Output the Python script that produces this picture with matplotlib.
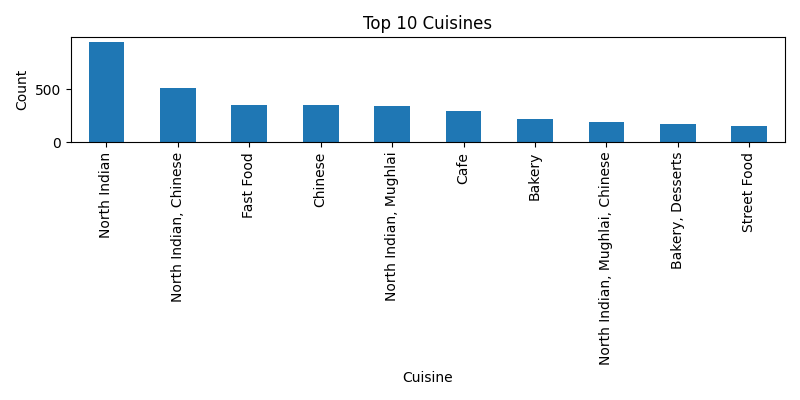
import pandas as pd
import matplotlib.pyplot as plt

# Top 10 kuchyní a jejich počty
cuisines = ['North Indian', 'North Indian, Chinese', 'Fast Food', 'Chinese',
            'North Indian, Mughlai', 'Cafe', 'Bakery',
            'North Indian, Mughlai, Chinese', 'Bakery, Desserts', 'Street Food']
counts = [946, 512, 354, 351, 338, 298, 223, 195, 168, 149]

top_cuisines = pd.Series(counts, index=cuisines)

plt.figure(figsize=(8, 4))
top_cuisines.plot(kind='bar')
plt.title('Top 10 Cuisines')
plt.xlabel('Cuisine')
plt.ylabel('Count')
plt.tight_layout()
plt.savefig('out.png', dpi=100)
